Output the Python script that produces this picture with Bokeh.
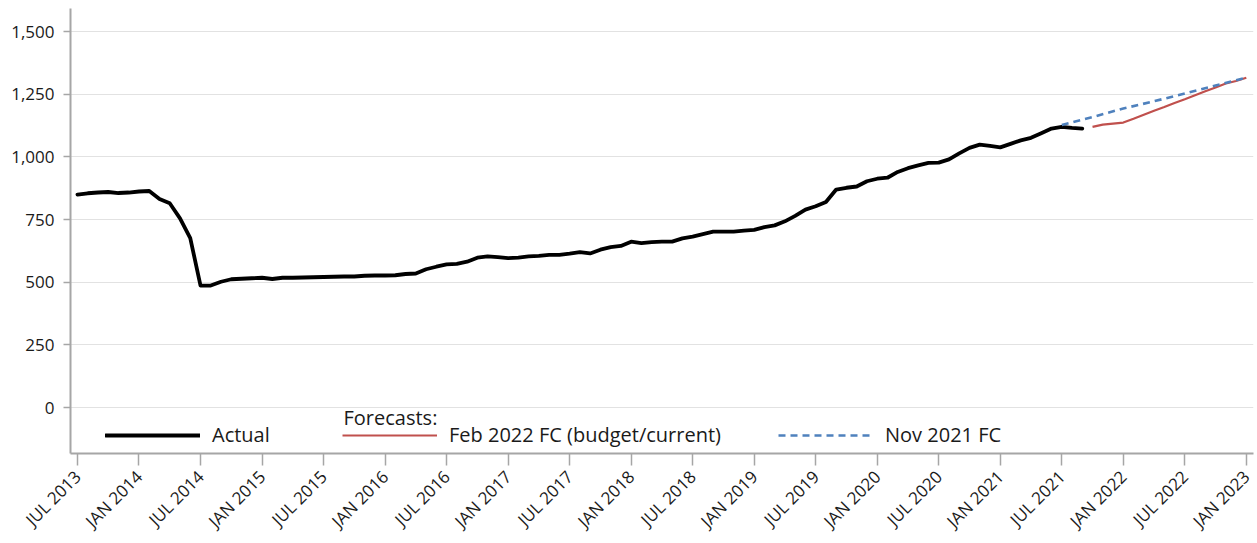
from math import pi
from bokeh.plotting import figure
from bokeh.models import (FixedTicker, Legend, LegendItem, Label, Range1d,
                          NumeralTickFormatter)
from bokeh.embed import file_html
from bokeh.resources import INLINE

FONT = "Open Sans"

# ---- data (month index 0 = Jul 2013) ----
tick_months = [0, 6, 12, 18, 24, 30, 36, 42, 48, 54, 60, 66, 72, 78, 84, 90, 96, 102, 108, 114]
tick_labels = ["JUL 2013", "JAN 2014", "JUL 2014", "JAN 2015", "JUL 2015", "JAN 2016",
               "JUL 2016", "JAN 2017", "JUL 2017", "JAN 2018", "JUL 2018", "JAN 2019",
               "JUL 2019", "JAN 2020", "JUL 2020", "JAN 2021", "JUL 2021", "JAN 2022",
               "JUL 2022", "JAN 2023"]

actual_values = [
    850, 855, 858, 860, 856, 858, 862, 864, 832, 815, 755, 676,   # Jul13-Jun14
    487, 487, 502, 512, 514, 516, 518, 513, 518, 518, 519, 520,   # Jul14-Jun15
    521, 522, 523, 523, 526, 527, 527, 528, 533, 535, 552, 562,   # Jul15-Jun16
    571, 573, 582, 598, 603, 600, 596, 598, 603, 605, 609, 609,   # Jul16-Jun17
    614, 620, 615, 630, 640, 645, 662, 656, 660, 662, 662, 675,   # Jul17-Jun18
    682, 692, 702, 702, 702, 706, 709, 720, 727, 743, 765, 790,   # Jul18-Jun19
    803, 820, 870, 877, 882, 903, 913, 917, 940, 955, 966, 976,   # Jul19-Jun20
    977, 990, 1014, 1036, 1049, 1044, 1038, 1052, 1066, 1076, 1094, 1113,  # Jul20-Jun21
    1120, 1116, 1113,                                               # Jul21-Sep21
]
actual_months = list(range(0, len(actual_values)))

feb22_months = list(range(99, 115))
feb22_values = [1120, 1129, 1133, 1137, 1152, 1168, 1184, 1199, 1215, 1230,
                1246, 1262, 1277, 1293, 1303, 1316]

nov21_months = [96, 99, 102, 105, 108, 111, 114]
nov21_values = [1127, 1159, 1193, 1222, 1253, 1285, 1316]

y_ticks = [0, 250, 500, 750, 1000, 1250, 1500]

# ---- figure ----
p = figure(width=1257, height=543,
           x_range=Range1d(-0.68, 114.7), y_range=Range1d(-183, 1592),
           output_backend="svg", toolbar_location=None,
           min_border_left=70, min_border_top=8, min_border_right=4, min_border_bottom=89)
p.outline_line_color = None
p.background_fill_color = "white"
p.border_fill_color = "white"

r_act = p.line(actual_months, actual_values, line_color="black", line_width=3.8,
               line_join="round", line_cap="round")
r_feb = p.line(feb22_months, feb22_values, line_color="#C0504D", line_width=2.2)
r_nov = p.line(nov21_months, nov21_values, line_color="#4F81BD", line_width=2.6,
               line_dash="7 5")

# axes
p.xgrid.visible = False
p.ygrid.grid_line_color = "#e2e2e2"
p.ygrid.grid_line_width = 1
p.yaxis.ticker = FixedTicker(ticks=y_ticks)
p.yaxis.formatter = NumeralTickFormatter(format="0,0")
p.xaxis.ticker = FixedTicker(ticks=tick_months)
p.xaxis.major_label_overrides = {m: l for m, l in zip(tick_months, tick_labels)}
p.xaxis.major_label_orientation = pi / 4

for ax in (p.xaxis[0], p.yaxis[0]):
    ax.axis_line_color = "#a6a6a6"
    ax.axis_line_width = 2
    ax.major_tick_line_color = "#a6a6a6"
    ax.major_tick_line_width = 1.5
    ax.minor_tick_line_color = None
    ax.major_tick_in = 0
    ax.major_label_text_font = FONT
    ax.major_label_text_font_size = "17px"
    ax.major_label_text_color = "#1a1a1a"

p.yaxis.major_tick_out = 7
p.yaxis.major_label_standoff = 9
p.xaxis.major_tick_out = 12
p.xaxis.major_label_standoff = 8

# legends (three separately placed entries)
def make_legend(label, renderer, loc):
    lg = Legend(items=[LegendItem(label=label, renderers=[renderer])],
                location=loc, orientation="horizontal",
                border_line_color=None, background_fill_alpha=0,
                padding=0, margin=0, spacing=0,
                glyph_width=95, glyph_height=20, label_standoff=12,
                label_height=20,
                label_text_font=FONT, label_text_font_size="20px",
                label_text_color="#1a1a1a")
    p.add_layout(lg)

make_legend("Actual", r_act, (35, 5))
make_legend("Feb 2022 FC (budget/current)", r_feb, (272, 5))
make_legend("Nov 2021 FC", r_nov, (708, 5))

p.add_layout(Label(x=273, y=36, x_units="screen", y_units="screen",
                   text="Forecasts:", text_font=FONT, text_font_size="20px",
                   text_color="#1a1a1a", text_baseline="alphabetic"))

open("out.html", "w").write(file_html(p, INLINE))
